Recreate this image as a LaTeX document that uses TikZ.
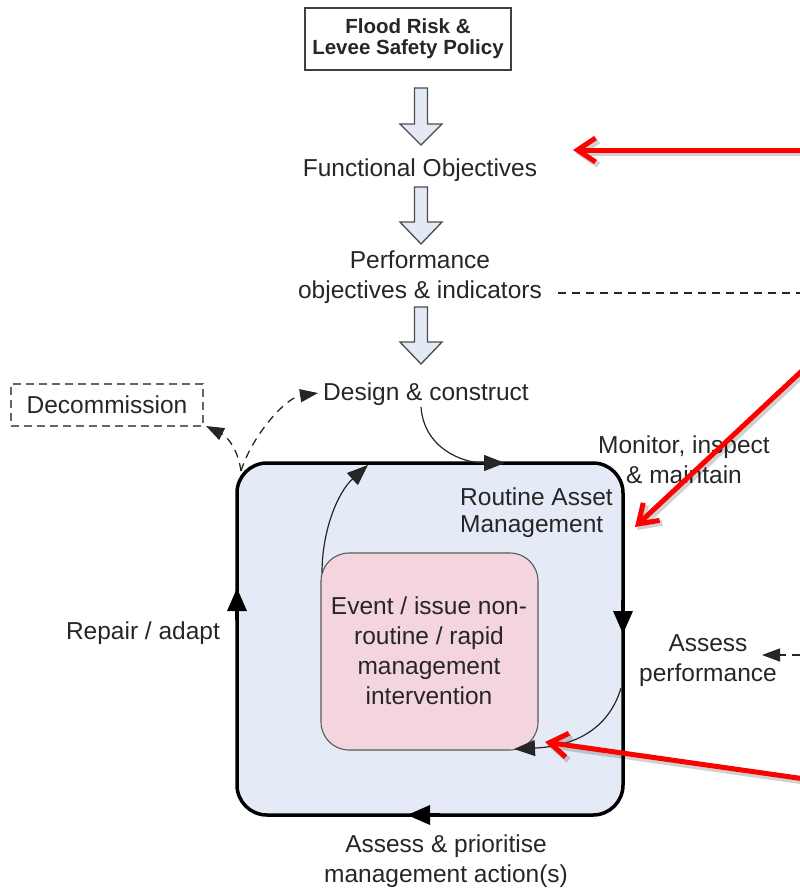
\documentclass[tikz,border=0pt]{standalone}
\usepackage{fontspec}
\setmainfont{Liberation Sans}
\usetikzlibrary{arrows.meta}
\definecolor{txt}{HTML}{262626}
\definecolor{boxblue}{HTML}{E5EBF6}
\definecolor{boxpink}{HTML}{F4D5DE}
\definecolor{arrfill}{HTML}{E4EAF5}
\definecolor{redarr}{HTML}{FF0000}
\newcommand\blockarrow[4]{%
  \draw[blk] (#1-6.5,#2) -- (#1+6.5,#2) -- (#1+6.5,#3) -- (#1+21,#3) -- (#1,#4) -- (#1-21,#3) -- (#1-6.5,#3) -- cycle;}
\begin{document}
\begin{tikzpicture}[x=1pt,y=-1pt,
  lbl/.style={font=\fontsize{24.5}{30}\selectfont, text=txt, align=center, inner sep=0pt},
  blk/.style={draw=black!70, fill=arrfill, line width=1.3pt, line join=miter},
  tri/.style={-{Triangle[length=21pt,width=16pt]}},
  dtri/.style={-{Triangle[length=18pt,width=13pt]}},
  conn/.style={draw=black!85, line width=1.2pt},
  dashconn/.style={draw=black!85, line width=1.3pt, dash pattern=on 8pt off 6pt},
  edgearrow/.style={draw=black, line width=3.5pt, -{Triangle[length=23pt,width=19pt]}},
  redarrow/.style={draw=redarr, line width=5pt, -{Straight Barb[length=18pt,width=24pt]}},
  redshadow/.style={draw=black, opacity=0.18, line width=6pt, -{Straight Barb[length=18pt,width=24pt]}}
]
\useasboundingbox (0,0) rectangle (800,889);

% top policy box
\node[draw=black!75, line width=1.3pt, minimum width=206pt, minimum height=62pt, inner sep=0pt,
      font=\bfseries\fontsize{20.5}{21}\selectfont, text=txt, align=center] (policy) at (408,39)
      {Flood Risk \&\\Levee Safety Policy};

\node[lbl] (fo) at (420,170) {Functional Objectives};
\node[lbl] (perf) at (420,277) {Performance\\objectives \& indicators};
\node[lbl] (design) at (426,394) {Design \& construct};

\node[lbl, draw=black!60, line width=1.5pt, dash pattern=on 8pt off 5pt,
      minimum width=192pt, minimum height=42pt] (decom) at (107,405) {Decommission};

% main boxes
\node[draw=black, line width=3.5pt, fill=boxblue, rounded corners=30pt,
      minimum width=386pt, minimum height=352pt, inner sep=0pt] (ram) at (430,639) {};
\node[draw=black!65, line width=1.1pt, fill=boxpink, rounded corners=28pt,
      minimum width=217pt, minimum height=197pt, inner sep=0pt] (pink) at (429.5,651.5) {};
\node[lbl] (event) at (429,651) {Event / issue non-\\routine / rapid\\management\\intervention};

\node[lbl, align=left, font=\fontsize{24.5}{27}\selectfont, anchor=west] (routine) at (460,513) {Routine Asset\\Management};
\node[lbl] (monitor) at (684,460) {Monitor, inspect\\\& maintain};
\node[lbl] (repair) at (143,633) {Repair / adapt};
\node[lbl] (assessp) at (708,661) {Assess\\performance};
\node[lbl] (prior) at (446,861) {Assess \& prioritise\\management action(s)};

% block arrows
\blockarrow{421}{88}{124}{145}
\blockarrow{421}{187}{222}{244}
\blockarrow{421}{307}{342}{364}

% coordinates
\coordinate (corner) at (241,471);
\coordinate (perfend) at (800,293);
\coordinate (apin) at (800,655);

% dashed connectors
\draw[dashconn] (558,293) -- (perfend);
\draw[dashconn, dtri] (corner) .. controls (252,436) and (285,398) .. (318,393);
\draw[dashconn, dtri] (corner) .. controls (238,450) and (228,437) .. (206,426);
\draw[dashconn, dtri] (apin) -- (762,655);

% thin curved connectors
\draw[conn, tri] (421,407) .. controls (424,448) and (462,463) .. (505,463);
\draw[conn, tri] (322,573) .. controls (322,530) and (338,492) .. (368,465);
\draw[conn, tri] (621,688) .. controls (610,725) and (580,746) .. (514,749);

% arrows on the cycle
\draw[edgearrow] (623,600) -- (623,634);
\draw[edgearrow] (237,620) -- (237,588);
\draw[edgearrow] (440,815) -- (407,815);

% red arrows
\coordinate (r1s) at (805,150);
\coordinate (r1e) at (573,150);
\coordinate (r2s) at (805,368);
\coordinate (r2e) at (635,527);
\coordinate (r3s) at (805,779);
\coordinate (r3e) at (545,742);
\foreach \s/\e in {r1s/r1e, r2s/r2e, r3s/r3e}{
  \draw[redshadow, transform canvas={shift={(2pt,-3pt)}}] (\s) -- (\e);
  \draw[redarrow] (\s) -- (\e);
}
\end{tikzpicture}
\end{document}
